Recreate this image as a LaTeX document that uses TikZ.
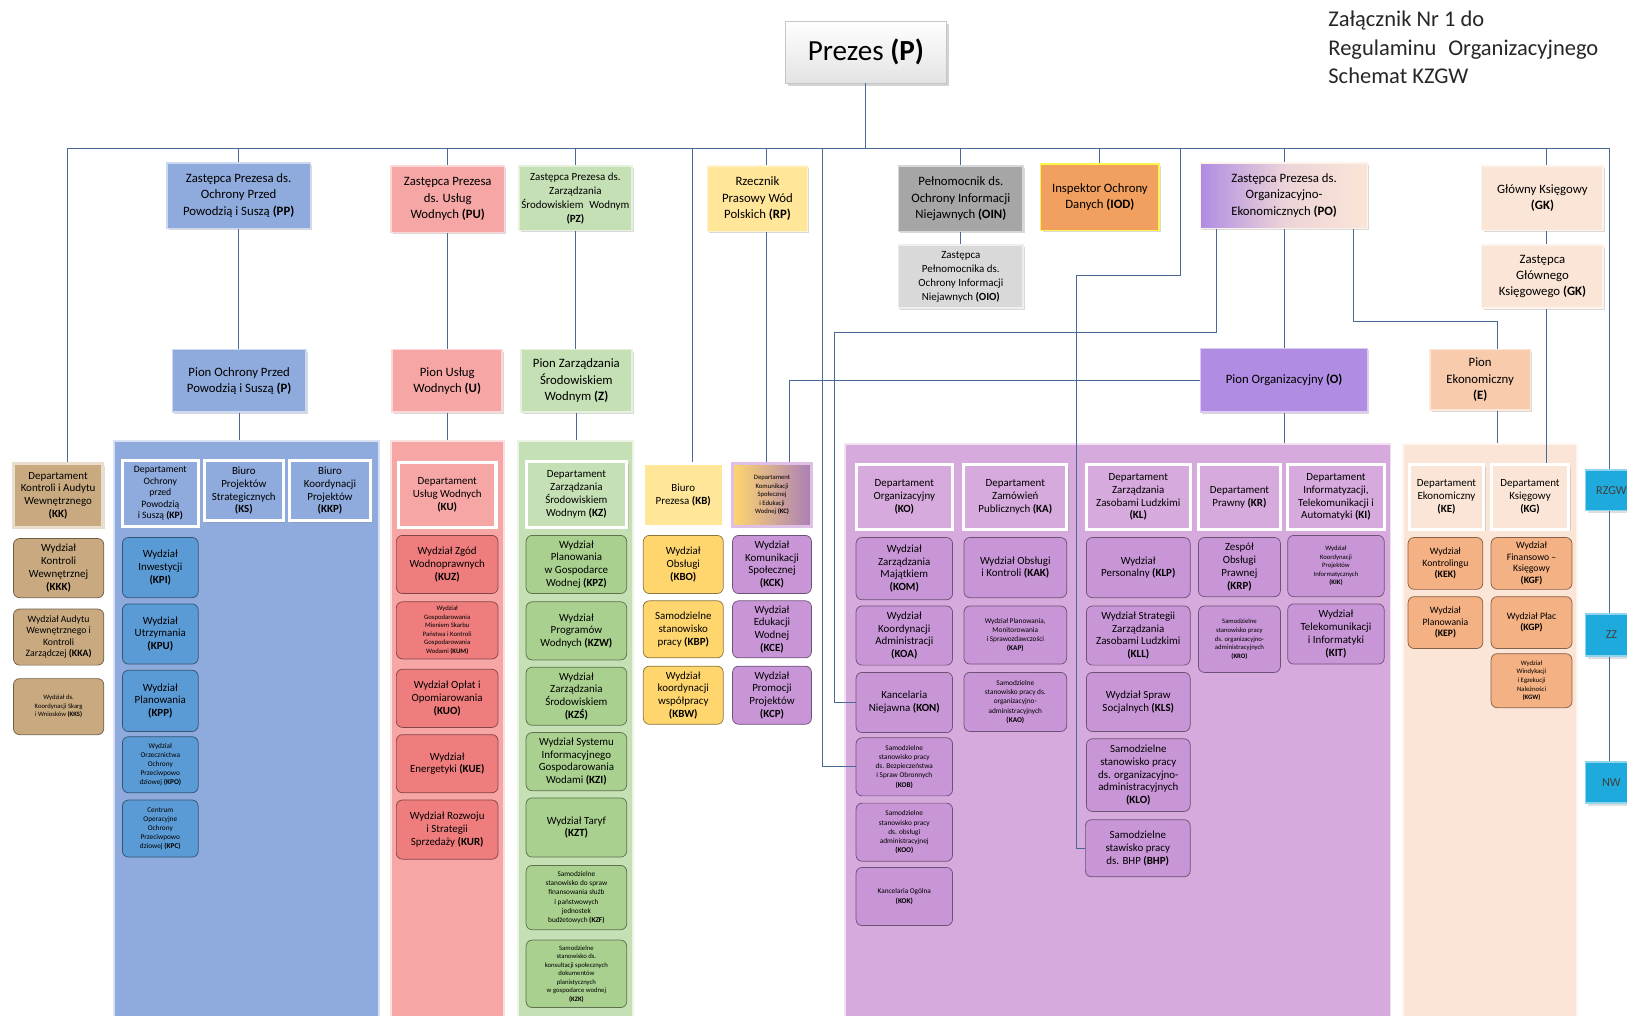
\documentclass[tikz,border=0pt]{standalone}
\usepackage{fontspec}
\setmainfont{Carlito}
\usetikzlibrary{shadows}
\definecolor{linia}{RGB}{72,104,150}
\definecolor{nieb}{RGB}{143,170,220}
\definecolor{niebW}{RGB}{91,155,213}
\definecolor{roz}{RGB}{247,166,166}
\definecolor{rozW}{RGB}{240,125,125}
\definecolor{ziel}{RGB}{197,224,180}
\definecolor{zielW}{RGB}{169,208,142}
\definecolor{zolt}{RGB}{255,230,153}
\definecolor{zoltW}{RGB}{255,214,110}
\definecolor{fiol}{RGB}{214,170,220}
\definecolor{fiolW}{RGB}{200,150,215}
\definecolor{fiolP}{RGB}{176,140,226}
\definecolor{brzo}{RGB}{251,229,214}
\definecolor{brzoP}{RGB}{248,203,173}
\definecolor{brzoW}{RGB}{244,177,131}
\definecolor{braz}{RGB}{201,170,128}
\definecolor{szary}{RGB}{166,166,166}
\definecolor{szaryJ}{RGB}{217,217,217}
\definecolor{pomar}{RGB}{242,160,95}
\definecolor{turk}{RGB}{30,170,220}

\newcommand{\fsGora}{\fontsize{10.5}{13.5}\selectfont}
\newcommand{\fsGoraM}{\fontsize{9}{11.5}\selectfont}
\newcommand{\fsDep}{\fontsize{9}{10.5}\selectfont}
\newcommand{\fsDepM}{\fontsize{8}{9.5}\selectfont}
\newcommand{\fsMaly}{\fontsize{6}{7.5}\selectfont}
\newcommand{\fsMini}{\fontsize{5.5}{7}\selectfont}

\tikzset{
  sz/.style 2 args={minimum width=#1*0.03cm, minimum height=#2*0.03cm},
  gora/.style={fill=#1, draw=#1!45!white, line width=1.2pt, inner sep=0pt, align=center, font=\fsGora,
    drop shadow={opacity=0.3, shadow xshift=1.5pt, shadow yshift=-1.5pt}},
  dep/.style={fill=#1, draw=white, line width=2.5pt, inner sep=0pt, align=center, font=\fsDep,
    drop shadow={opacity=0.25, shadow xshift=1.5pt, shadow yshift=-1.5pt}},
  wyd/.style={fill=#1, draw=#1!55!black, line width=0.6pt, rounded corners=5pt, inner sep=0pt, align=center, font=\fsDep},
  panel/.style={fill=#1, draw=white!65!#1, line width=1.5pt, inner sep=0pt},
  turkus/.style={fill=turk, draw=turk!50!white, line width=1.5pt, inner sep=0pt, text=black!75,
    font=\fontsize{10}{12}\selectfont, drop shadow={opacity=0.25}},
  link/.style={draw=linia, line width=0.7pt},
}

\begin{document}
\begin{tikzpicture}[x=0.03cm, y=-0.03cm]
\useasboundingbox (0,0) rectangle (1568,979);

% tlo pionow
\node[panel=nieb, sz={255}{565}] (panP) at (237.5,707.5) {};
\node[panel=roz, sz={109}{565}] (panU) at (431.5,707.5) {};
\node[panel=ziel, sz={111}{565}] (panZ) at (554.5,707.5) {};
\node[panel=fiol, sz={526}{562}] (panO) at (1077,709) {};
\node[panel=brzo, sz={168}{562}] (panE) at (1436,709) {};

% naglowek
\node[anchor=north west, inner sep=0pt, align=left, font=\fontsize{18.5}{23.5}\selectfont, text=black!85] (tytul) at (1280,10.5)
  {Załącznik Nr 1 do\\Regulaminu\hspace{0.3em} Organizacyjnego\\Schemat KZGW};
\node[draw=gray!45, top color=white, bottom color=gray!22, sz={155}{60}, font=\fontsize{24}{28}\selectfont,
  drop shadow={opacity=0.35, shadow xshift=2pt, shadow yshift=-2.5pt}] (P) at (834.5,50) {Prezes \textbf{(P)}};

% zastepcy i stanowiska
\node[gora=nieb, sz={138}{63}] (PP) at (230,188.5) {Zastępca Prezesa ds.\\Ochrony Przed\\Powodzią i Suszą \textbf{(PP)}};
\node[gora=roz, sz={109}{64}] (PU) at (431.5,192) {Zastępca Prezesa\\ds. Usług\\Wodnych \textbf{(PU)}};
\node[gora=ziel, sz={109}{62}, font=\fsGoraM] (PZ) at (554.5,191) {Zastępca Prezesa ds.\\Zarządzania\\Środowiskiem\hspace{0.3em} Wodnym\\\textbf{(PZ)}};
\node[gora=zolt, sz={96}{63}] (RP) at (730,191.5) {Rzecznik\\Prasowy Wód\\Polskich \textbf{(RP)}};
\node[gora=szary, sz={120}{63}] (OIN) at (926,191.5) {Pełnomocnik ds.\\Ochrony Informacji\\Niejawnych \textbf{(OIN)}};
\node[gora=pomar, draw=yellow!70!white, sz={114}{64}] (IOD) at (1060,190) {Inspektor Ochrony\\Danych \textbf{(IOD)}};
\node[gora=brzo, left color=fiolP, right color=brzo, middle color=brzo!80!fiolP, sz={161}{63}] (PO) at (1237.5,188.5)
  {Zastępca Prezesa ds.\\Organizacyjno-\\Ekonomicznych \textbf{(PO)}};
\node[gora=brzo, sz={117}{62}] (GK) at (1486.5,191) {Główny Księgowy\\\textbf{(GK)}};
\node[gora=szaryJ, sz={120}{61}, font=\fsGoraM] (OIO) at (926,266.5) {Zastępca\\Pełnomocnika ds.\\Ochrony Informacji\\Niejawnych \textbf{(OIO)}};
\node[gora=brzo, sz={117}{61}] (GKZ) at (1486.5,266.5) {Zastępca\\Głównego\\Księgowego \textbf{(GK)}};

% piony
\node[gora=nieb, sz={129}{60}] (PionP) at (230.5,367) {Pion Ochrony Przed\\Powodzią i Suszą \textbf{(P)}};
\node[gora=roz, sz={106}{60}] (PionU) at (431,367) {Pion Usług\\Wodnych \textbf{(U)}};
\node[gora=ziel, sz={107}{60}] (PionZ) at (555.5,367) {Pion Zarządzania\\Środowiskiem\\Wodnym \textbf{(Z)}};
\node[gora=fiolP, sz={161}{61}] (PionO) at (1237.5,366.5) {Pion Organizacyjny \textbf{(O)}};
\node[gora=brzoP, sz={97}{58}] (PionE) at (1426.5,366) {Pion\\Ekonomiczny\\\textbf{(E)}};

% kontrola i audyt
\node[dep=braz, draw=braz!40!white, sz={86}{61}] (KK) at (56,477.5) {Departament\\Kontroli i Audytu\\Wewnętrznego\\\textbf{(KK)}};
\node[wyd=braz, sz={87}{57}] (KKK) at (56.5,547.5) {Wydział\\Kontroli\\Wewnętrznej\\\textbf{(KKK)}};
\node[wyd=braz, sz={87}{54}, font=\fsDepM] (KKA) at (56.5,614) {Wydział Audytu\\Wewnętrznego i\\Kontroli\\Zarządczej \textbf{(KKA)}};
\node[wyd=braz, sz={87}{54}, font=\fsMini] (KKS) at (56.5,681) {Wydział ds.\\Koordynacji Skarg\\i Wniosków \textbf{(KKS)}};

% pion P
\node[dep=nieb, sz={73}{63}, font=\fsDepM] (KP) at (154.5,475.5) {Departament\\Ochrony\\przed\\Powodzią\\i Suszą \textbf{(KP)}};
\node[dep=nieb, sz={76}{58}] (KS) at (235,473) {Biuro\\Projektów\\Strategicznych\\\textbf{(KS)}};
\node[dep=nieb, sz={78}{58}] (KKP) at (318,473) {Biuro\\Koordynacji\\Projektów\\\textbf{(KKP)}};
\node[wyd=niebW, sz={73}{58}] (KPI) at (154.5,547) {Wydział\\Inwestycji\\\textbf{(KPI)}};
\node[wyd=niebW, sz={73}{58}] (KPU) at (154.5,611) {Wydział\\Utrzymania\\\textbf{(KPU)}};
\node[wyd=niebW, sz={73}{59}] (KPP) at (154.5,675.5) {Wydział\\Planowania\\\textbf{(KPP)}};
\node[wyd=niebW, sz={73}{54}, font=\fsMaly] (KPO) at (154.5,737) {Wydział\\Orzecznictwa\\Ochrony\\Przeciwpowo\\dziowej \textbf{(KPO)}};
\node[wyd=niebW, sz={73}{55}, font=\fsMaly] (KPC) at (154.5,798.5) {Centrum\\Operacyjne\\Ochrony\\Przeciwpowo\\dziowej \textbf{(KPC)}};

% pion U
\node[dep=roz, sz={94}{62}] (KU) at (431,477) {Departament\\Usług Wodnych\\\textbf{(KU)}};
\node[wyd=rozW, sz={98}{56}] (KUZ) at (431,544) {Wydział Zgód\\Wodnoprawnych\\\textbf{(KUZ)}};
\node[wyd=rozW, sz={98}{55}, font=\fsMini] (KUM) at (431,607.5) {Wydział\\Gospodarowania\\Mieniem Skarbu\\Państwa i Kontroli\\Gospodarowania\\Wodami \textbf{(KUM)}};
\node[wyd=rozW, sz={98}{56}] (KUO) at (431,673) {Wydział Opłat i\\Opomiarowania\\\textbf{(KUO)}};
\node[wyd=rozW, sz={98}{56}] (KUE) at (431,736) {Wydział\\Energetyki \textbf{(KUE)}};
\node[wyd=rozW, sz={98}{57}] (KUR) at (431,799.5) {Wydział Rozwoju\\i Strategii\\Sprzedaży \textbf{(KUR)}};

% pion Z
\node[dep=ziel, sz={97}{63}] (KZ) at (555.5,476.5) {Departament\\Zarządzania\\Środowiskiem\\Wodnym \textbf{(KZ)}};
\node[wyd=zielW, sz={97}{56}] (KPZ) at (555.5,544) {Wydział\\Planowania\\w Gospodarce\\Wodnej \textbf{(KPZ)}};
\node[wyd=zielW, sz={97}{56}] (KZW) at (555.5,608) {Wydział\\Programów\\Wodnych \textbf{(KZW)}};
\node[wyd=zielW, sz={97}{56}] (KZS) at (555.5,671) {Wydział\\Zarządzania\\Środowiskiem\\\textbf{(KZŚ)}};
\node[wyd=zielW, sz={97}{56}] (KZI) at (555.5,734) {Wydział Systemu\\Informacyjnego\\Gospodarowania\\Wodami \textbf{(KZI)}};
\node[wyd=zielW, sz={97}{57}] (KZT) at (555.5,797.5) {Wydział Taryf\\\textbf{(KZT)}};
\node[wyd=zielW, sz={97}{62}, font=\fsMaly] (KZF) at (555.5,865) {Samodzielne\\stanowisko do spraw\\finansowania służb\\i państwowych\\jednostek\\budżetowych \textbf{(KZF)}};
\node[wyd=zielW, sz={97}{65}, font=\fsMini] (KZK) at (555.5,938.5) {Samodzielne\\stanowisko ds.\\konsultacji społecznych\\dokumentów\\planistycznych\\w gospodarce wodnej\\\textbf{(KZK)}};

% biuro prezesa i komunikacja
\node[dep=zolt, sz={77}{60}] (KB) at (658.5,477) {Biuro\\Prezesa \textbf{(KB)}};
\node[dep=zoltW, draw=fiolW!60!white, left color=zoltW, right color=fiolW!85!black, sz={76}{60}, font=\fsMini] (KC) at (744,477)
  {Departament\\Komunikacji\\Społecznej\\i Edukacji\\Wodnej \textbf{(KC)}};
\node[wyd=zoltW, sz={77}{56}] (KBO) at (658.5,544) {Wydział\\Obsługi\\\textbf{(KBO)}};
\node[wyd=zoltW, sz={77}{55}] (KBP) at (658.5,606.5) {Samodzielne\\stanowisko\\pracy \textbf{(KBP)}};
\node[wyd=zoltW, sz={77}{56}] (KBW) at (658.5,670) {Wydział\\koordynacji\\współpracy\\\textbf{(KBW)}};
\node[wyd=fiolW, sz={76}{56}] (KCK) at (744,544) {Wydział\\Komunikacji\\Społecznej\\\textbf{(KCK)}};
\node[wyd=fiolW, sz={76}{55}] (KCE) at (744,606.5) {Wydział\\Edukacji\\Wodnej\\\textbf{(KCE)}};
\node[wyd=fiolW, sz={76}{56}] (KCP) at (744,670) {Wydział\\Promocji\\Projektów\\\textbf{(KCP)}};

% pion O
\node[dep=fiol, sz={93}{62}] (KO) at (871.5,479) {Departament\\Organizacyjny\\\textbf{(KO)}};
\node[dep=fiol, sz={99}{62}] (KA) at (978.5,479) {Departament\\Zamówień\\Publicznych \textbf{(KA)}};
\node[dep=fiol, sz={100}{62}] (KL) at (1097,479) {Departament\\Zarządzania\\Zasobami Ludzkimi\\\textbf{(KL)}};
\node[dep=fiol, sz={79}{62}] (KR) at (1194.5,479) {Departament\\Prawny \textbf{(KR)}};
\node[dep=fiol, sz={93}{62}] (KI) at (1287.5,479) {Departament\\Informatyzacji,\\Telekomunikacji i\\Automatyki \textbf{(KI)}};
\node[wyd=fiolW, sz={93}{60}] (KOM) at (871.5,548) {Wydział\\Zarządzania\\Majątkiem\\\textbf{(KOM)}};
\node[wyd=fiolW, sz={93}{57}] (KOA) at (871.5,612.5) {Wydział\\Koordynacji\\Administracji\\\textbf{(KOA)}};
\node[wyd=fiolW, sz={93}{58}] (KON) at (871.5,677) {Kancelaria\\Niejawna \textbf{(KON)}};
\node[wyd=fiolW, sz={93}{56}, font=\fsMaly] (KOB) at (871.5,739) {Samodzielne\\stanowisko pracy\\ds. Bezpieczeństwa\\i Spraw Obronnych\\\textbf{(KOB)}};
\node[wyd=fiolW, sz={93}{56}, font=\fsMaly] (KOO) at (871.5,802) {Samodzielne\\stanowisko pracy\\ds. obsługi\\administracyjnej\\\textbf{(KOO)}};
\node[wyd=fiolW, sz={93}{56}, font=\fsMaly] (KOK) at (871.5,864) {Kancelaria Ogólna\\\textbf{(KOK)}};
\node[wyd=fiolW, sz={99}{58}] (KAK) at (978.5,547) {Wydział Obsługi\\i Kontroli \textbf{(KAK)}};
\node[wyd=fiolW, sz={99}{56}, font=\fsMaly] (KAP) at (978.5,612) {Wydział Planowania,\\Monitorowania\\i Sprawozdawczości\\\textbf{(KAP)}};
\node[wyd=fiolW, sz={99}{57}, font=\fsMaly] (KAO) at (978.5,676.5) {Samodzielne\\stanowisko pracy ds.\\organizacyjno-\\administracyjnych\\\textbf{(KAO)}};
\node[wyd=fiolW, sz={100}{58}] (KLP) at (1097,547) {Wydział\\Personalny \textbf{(KLP)}};
\node[wyd=fiolW, sz={100}{57}] (KLL) at (1097,612.5) {Wydział Strategii\\Zarządzania\\Zasobami Ludzkimi\\\textbf{(KLL)}};
\node[wyd=fiolW, sz={100}{57}] (KLS) at (1097,676.5) {Wydział Spraw\\Socjalnych \textbf{(KLS)}};
\node[wyd=fiolW, sz={100}{70}] (KLO) at (1097,747) {Samodzielne\\stanowisko pracy\\ds. organizacyjno-\\administracyjnych\\\textbf{(KLO)}};
\node[wyd=fiolW, sz={101}{55}] (BHP) at (1096.5,817.5) {Samodzielne\\stawisko pracy\\ds. BHP \textbf{(BHP)}};
\node[wyd=fiolW, sz={79}{57}] (KRP) at (1194.5,546.5) {Zespół\\Obsługi\\Prawnej\\\textbf{(KRP)}};
\node[wyd=fiolW, sz={79}{64}, font=\fsMini] (KRO) at (1194.5,616) {Samodzielne\\stanowisko pracy\\ds. organizacyjno-\\administracyjnych\\\textbf{(KRO)}};
\node[wyd=fiolW, sz={93}{59}, font=\fsMini] (KIK) at (1287.5,545.5) {Wydział\\Koordynacji\\Projektów\\Informatycznych\\\textbf{(KIK)}};
\node[wyd=fiolW, sz={93}{58}] (KIT) at (1287.5,611) {Wydział\\Telekomunikacji\\i Informatyki\\\textbf{(KIT)}};

% pion E
\node[dep=brzo, sz={72}{62}] (KE) at (1394,479) {Departament\\Ekonomiczny\\\textbf{(KE)}};
\node[dep=brzo, sz={75}{62}] (KG) at (1474.5,479) {Departament\\Księgowy\\\textbf{(KG)}};
\node[wyd=brzoW, sz={72}{50}, font=\fsDepM] (KEK) at (1393,543) {Wydział\\Kontrolingu\\\textbf{(KEK)}};
\node[wyd=brzoW, sz={72}{50}, font=\fsDepM] (KEP) at (1393,600) {Wydział\\Planowania\\\textbf{(KEP)}};
\node[wyd=brzoW, sz={78}{50}, font=\fsDepM] (KGF) at (1476,543) {Wydział\\Finansowo --\\Księgowy\\\textbf{(KGF)}};
\node[wyd=brzoW, sz={78}{50}, font=\fsDepM] (KGP) at (1476,600) {Wydział Płac\\\textbf{(KGP)}};
\node[wyd=brzoW, sz={78}{52}, font=\fsMini] (KGW) at (1476,656) {Wydział\\Windykacji\\i Egzekucji\\Należności\\\textbf{(KGW)}};

% jednostki terenowe
\node[turkus, sz={50}{39}] (RZGW) at (1553,472.5) {RZGW};
\node[turkus, sz={50}{40}] (ZZ) at (1553,612) {ZZ};
\node[turkus, sz={50}{40}] (NW) at (1553,754) {NW};

% polaczenia
\coordinate (busL) at (65,143);
\coordinate (busR) at (1551,143);
\draw[link] (P.south) -- (P.south |- busL);
\draw[link] (busL) -- (busR);
\draw[link] (busL) -- (busL |- KK.north);
\foreach \n in {PP,PU,PZ,OIN,IOD,PO}
  \draw[link] (\n.north) -- (\n.north |- busL);
\draw[link] (PP.south) -- (PP.south |- PionP.north);
\draw[link] (PionP.south) -- (PionP.south |- panP.north);
\draw[link] (PU.south) -- (PU.south |- PionU.north);
\draw[link] (PionU.south) -- (PionU.south |- panU.north);
\draw[link] (PZ.south) -- (PZ.south |- PionZ.north);
\draw[link] (PionZ.south) -- (PionZ.south |- panZ.north);
\draw[link] (OIN.south) -- (OIO.north);
\coordinate (xKB) at (667,143);
\draw[link] (xKB) -- (xKB |- KB.north);
\coordinate (xRP) at (739,143);
\draw[link] (xRP) -- (xRP |- RP.north);
\draw[link] (xRP |- RP.south) -- (xRP |- KC.north);
\coordinate (xKOB) at (793,143);
\draw[link] (xKOB) |- (KOB.west);
\coordinate (xBHP) at (1138,143);
\coordinate (zBHP) at (1037,265);
\draw[link] (xBHP) |- (zBHP) |- (BHP.west);
\coordinate (zKON) at (1172,320);
\coordinate (yKON) at (804,320);
\draw[link] (PO.south -| zKON) -- (zKON) -- (yKON) |- (KON.west);
\coordinate (zE) at (1304,310);
\coordinate (xE) at (1443,310);
\draw[link] (PO.south -| zE) -- (zE) -- (xE) -- (xE |- PionE.north);
\draw[link] (xE |- PionE.south) -- (xE |- panE.north);
\draw[link] (PO.south) -- (PO.south |- PionO.north);
\draw[link] (PionO.south) -- (PionO.south |- panO.north);
\coordinate (xKC) at (761,365);
\draw[link] (PionO.west) -| (xKC |- KC.north);
\coordinate (xGK) at (1490,143);
\draw[link] (xGK) -- (xGK |- GK.north);
\draw[link] (xGK |- GK.south) -- (xGK |- GKZ.north);
\draw[link] (xGK |- GKZ.south) -- (xGK |- KG.north);
\draw[link] (busR) -- (busR |- RZGW.north);
\draw[link] (busR |- RZGW.south) -- (busR |- ZZ.north);
\draw[link] (busR |- ZZ.south) -- (busR |- NW.north);
\end{tikzpicture}
\end{document}
